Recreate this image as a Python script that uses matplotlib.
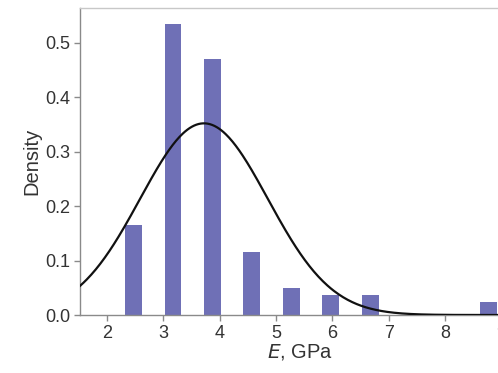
import numpy as np
import matplotlib.pyplot as plt

plt.rcParams['font.family'] = ['Liberation Sans', 'DejaVu Sans']

# histogram of Young's modulus (density per bin, bin width 0.7 GPa)
bin_centers = [2.47, 3.17, 3.87, 4.57, 5.27, 5.97, 6.67, 7.37, 8.07, 8.77]
density = [0.165, 0.535, 0.470, 0.115, 0.050, 0.037, 0.037, 0.0, 0.0, 0.024]

# fitted normal distribution
mu = 3.72
sigma = 1.133

x_ticks = [2, 3, 4, 5, 6, 7, 8, 9]
y_ticks = [0.0, 0.1, 0.2, 0.3, 0.4, 0.5]

fig = plt.figure(figsize=(4.98, 3.73), dpi=100)
ax = fig.add_axes([80 / 498, (373 - 315) / 373, 440 / 498, 307 / 373])

ax.bar(bin_centers, density, width=0.3, color='#6f70b6', zorder=2)

xs = np.linspace(1.4, 9.4, 400)
pdf = np.exp(-0.5 * ((xs - mu) / sigma) ** 2) / (sigma * np.sqrt(2 * np.pi))
ax.plot(xs, pdf, color='#111111', lw=1.6, zorder=3)

ax.set_xlim(1.52, 9.33)
ax.set_ylim(0, 0.564)
ax.set_xticks(x_ticks)
ax.set_yticks(y_ticks)
ax.set_yticklabels([f'{v:.1f}' for v in y_ticks])

for side in ['left', 'bottom']:
    ax.spines[side].set_color('#8a8a8a')
    ax.spines[side].set_linewidth(1.0)
for side in ['top', 'right']:
    ax.spines[side].set_color('#c8c8c8')
    ax.spines[side].set_linewidth(1.0)

ax.tick_params(axis='both', direction='out', length=4, width=1, color='#8a8a8a',
               labelsize=13, labelcolor='#333333', pad=3)
ax.set_ylabel('Density', fontsize=14.5, color='#333333', labelpad=3)
ax.set_xlabel('$\\mathit{E}$, GPa', fontsize=14.5, color='#333333', labelpad=0)

fig.savefig('out.png', dpi=100)
